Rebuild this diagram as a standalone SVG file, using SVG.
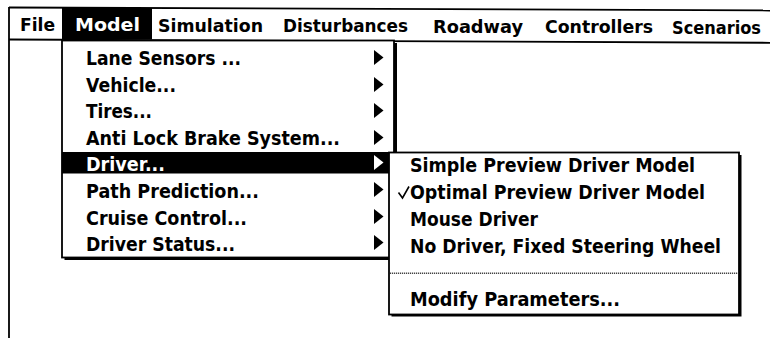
<svg xmlns="http://www.w3.org/2000/svg" width="770" height="338" viewBox="0 0 770 338">
  <style>
    .bar { font-family: "DejaVu Sans", "Liberation Sans", sans-serif; font-weight: bold; font-size: 18px; fill: #000; }
    .bar-sm { font-size: 17px; }
    .item { font-family: "DejaVu Sans", "Liberation Sans", sans-serif; font-weight: bold; font-size: 19px; fill: #000; }
    .inv { fill: #fff; }
    .frame { fill: #fff; stroke: #000; stroke-width: 1.8; }
    .shadow { fill: #000; }
    .edge { stroke: #000; stroke-width: 1.8; fill: none; }
    .arrow { fill: #000; }
  </style>
  <defs>
    <path id="tri" d="M0,0 L9.5,7.5 L0,15 Z"/>
  </defs>

  <rect x="0" y="0" width="770" height="338" fill="#fff"/>

  <!-- menu bar -->
  <g id="menubar">
    <line class="edge" x1="9" y1="7.5" x2="772" y2="10.5"/>
    <line class="edge" x1="9" y1="39.5" x2="772" y2="42.8"/>
    <line class="edge" x1="9" y1="7" x2="9" y2="338"/>
    <rect x="62" y="8" width="90" height="31.5" fill="#000"/>
    <text class="bar" x="20" y="30.8" textLength="35" lengthAdjust="spacingAndGlyphs">File</text>
    <text class="bar inv" x="75" y="31" textLength="65" lengthAdjust="spacingAndGlyphs">Model</text>
    <text class="bar" x="158" y="31.5" textLength="105" lengthAdjust="spacingAndGlyphs">Simulation</text>
    <text class="bar" x="283" y="32" textLength="125" lengthAdjust="spacingAndGlyphs">Disturbances</text>
    <text class="bar" x="433" y="32.8" textLength="90" lengthAdjust="spacingAndGlyphs">Roadway</text>
    <text class="bar" x="545" y="33.3" textLength="108" lengthAdjust="spacingAndGlyphs">Controllers</text>
    <text class="bar bar-sm" x="672" y="33.8" textLength="89" lengthAdjust="spacingAndGlyphs">Scenarios</text>
  </g>

  <!-- Model pull-down menu -->
  <g id="model-menu">
    <rect class="shadow" x="64.5" y="43" width="332.5" height="217"/>
    <rect class="frame" x="62" y="40.5" width="332" height="217"/>
    <rect x="62" y="152" width="332" height="21.5" fill="#000"/>
    <text class="item" x="86" y="65" textLength="155" lengthAdjust="spacingAndGlyphs">Lane Sensors ...</text>
    <text class="item" x="86" y="92" textLength="90" lengthAdjust="spacingAndGlyphs">Vehicle...</text>
    <text class="item" x="86" y="118" textLength="66" lengthAdjust="spacingAndGlyphs">Tires...</text>
    <text class="item" x="86" y="145" textLength="254" lengthAdjust="spacingAndGlyphs">Anti Lock Brake System...</text>
    <text class="item inv" x="86" y="171" textLength="79" lengthAdjust="spacingAndGlyphs">Driver...</text>
    <text class="item" x="86" y="198" textLength="173" lengthAdjust="spacingAndGlyphs">Path Prediction...</text>
    <text class="item" x="86" y="225" textLength="161" lengthAdjust="spacingAndGlyphs">Cruise Control...</text>
    <text class="item" x="86" y="251" textLength="149" lengthAdjust="spacingAndGlyphs">Driver Status...</text>
    <use href="#tri" class="arrow" x="374" y="50"/>
    <use href="#tri" class="arrow" x="374" y="77"/>
    <use href="#tri" class="arrow" x="374" y="103"/>
    <use href="#tri" class="arrow" x="374" y="130"/>
    <use href="#tri" fill="#fff" x="374" y="155"/>
    <use href="#tri" class="arrow" x="374" y="182"/>
    <use href="#tri" class="arrow" x="374" y="209"/>
    <use href="#tri" class="arrow" x="374" y="235"/>
  </g>

  <!-- Driver sub-menu -->
  <g id="driver-menu">
    <rect class="shadow" x="391.5" y="155" width="350" height="161.5"/>
    <rect class="frame" x="389" y="152.5" width="350" height="162"/>
    <text class="item" x="410" y="172" textLength="285" lengthAdjust="spacingAndGlyphs">Simple Preview Driver Model</text>
    <path d="M398.5,192.5 L402.5,198 L409,186.5" fill="none" stroke="#000" stroke-width="1.6"/>
    <text class="item" x="410" y="199" textLength="295" lengthAdjust="spacingAndGlyphs">Optimal Preview Driver Model</text>
    <text class="item" x="410" y="226" textLength="128" lengthAdjust="spacingAndGlyphs">Mouse Driver</text>
    <text class="item" x="410" y="252.5" textLength="311" lengthAdjust="spacingAndGlyphs">No Driver, Fixed Steering Wheel</text>
    <line x1="390" y1="273.3" x2="738" y2="273.3" stroke="#444" stroke-width="1.4" stroke-dasharray="1.2 0.8"/>
    <text class="item" x="410" y="306" textLength="210" lengthAdjust="spacingAndGlyphs">Modify Parameters...</text>
  </g>
</svg>
